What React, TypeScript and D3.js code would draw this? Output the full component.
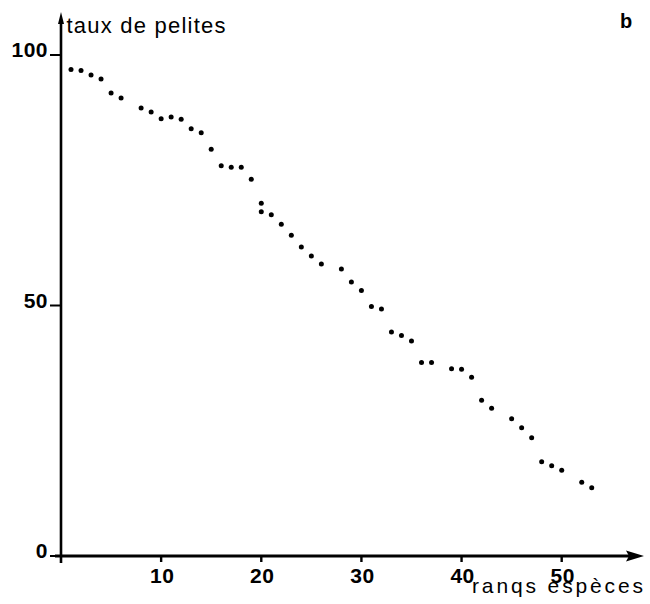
import React from "react";
import * as d3 from "d3";

// rang de l'espèce (axe x) et taux de pelites en % (axe y)
const ranks = [
  1, 2, 3, 4, 5, 6, 8, 9, 10, 11, 12, 13, 14, 15, 16, 17, 18, 19, 20, 20, 21, 22, 23, 24, 25, 26,
  28, 29, 30, 31, 32, 33, 34, 35, 36, 37, 39, 40, 41, 42, 43, 45, 46, 47, 48, 49, 50, 52, 53,
];
const taux = [
  97.1, 96.9, 96.0, 95.2, 92.4, 91.4, 89.4, 88.6, 87.3, 87.6, 87.2, 85.3, 84.5, 81.2, 77.9, 77.6,
  77.6, 75.2, 70.4, 68.7, 68.1, 66.2, 64.0, 61.7, 59.9, 58.3, 57.3, 54.7, 53.0, 49.8, 49.3, 44.7,
  44.0, 42.9, 38.6, 38.6, 37.4, 37.3, 35.7, 31.1, 29.5, 27.4, 25.6, 23.6, 18.8, 18.0, 17.1, 14.7,
  13.6,
];
const xTicks = [10, 20, 30, 40, 50];
const yTicks = [0, 50, 100];
const xTitle = "ranqs espèces";
const yTitle = "taux de pelites";
const panel = "b";

const W = 650;
const H = 604;
const font = "'Liberation Sans', Arial, Helvetica, sans-serif";

export default function App() {
  const x = d3.scaleLinear().domain([0, 50]).range([61, 561.7]);
  const y = d3.scaleLinear().domain([0, 100]).range([556, 55]);

  const points = ranks.map((r, i) => ({ r, v: taux[i] }));

  return (
    <div style={{ position: "absolute", left: 0, top: 0 }}>
      <svg width={W} height={H} style={{ display: "block", background: "#fff" }} fontFamily={font}>
        {/* axe y */}
        <line x1={x(0)} x2={x(0)} y1={563} y2={20} stroke="#000" strokeWidth={2.6} />
        <path d={`M${x(0)},12 L${x(0) - 3},24 L${x(0) + 3},24 Z`} fill="#000" />
        {/* axe x */}
        <line x1={55} x2={630} y1={y(0)} y2={y(0)} stroke="#000" strokeWidth={2.8} />
        <path d={`M644,${y(0)} L626,${y(0) - 5.5} L629,${y(0)} L626,${y(0) + 5.5} Z`} fill="#000" />

        {yTicks.map(t => (
          <g key={t}>
            <line x1={x(0) - 11} x2={x(0)} y1={y(t)} y2={y(t)} stroke="#000" strokeWidth={2} />
            <text x={48} y={y(t) + 2} textAnchor="end" fontSize={21} fontWeight="bold" letterSpacing={0.5}>
              {t}
            </text>
          </g>
        ))}

        {xTicks.map(t => (
          <g key={t}>
            <line x1={x(t)} x2={x(t)} y1={y(0)} y2={y(0) + 6} stroke="#000" strokeWidth={2.4} />
            <text x={x(t) + 1} y={583} textAnchor="middle" fontSize={21} fontWeight="bold" letterSpacing={0.5}>
              {t}
            </text>
          </g>
        ))}

        {points.map((p, i) => (
          <circle key={i} cx={x(p.r)} cy={y(p.v)} r={2.5} fill="#000" />
        ))}

        <text x={66.5} y={33} fontSize={22} textLength={159} lengthAdjust="spacing">
          {yTitle}
        </text>
        <text x={472} y={593} fontSize={21} textLength={171} lengthAdjust="spacing">
          {xTitle}
        </text>
        <text x={620} y={28} fontSize={20} fontWeight="bold">
          {panel}
        </text>
      </svg>
    </div>
  );
}
